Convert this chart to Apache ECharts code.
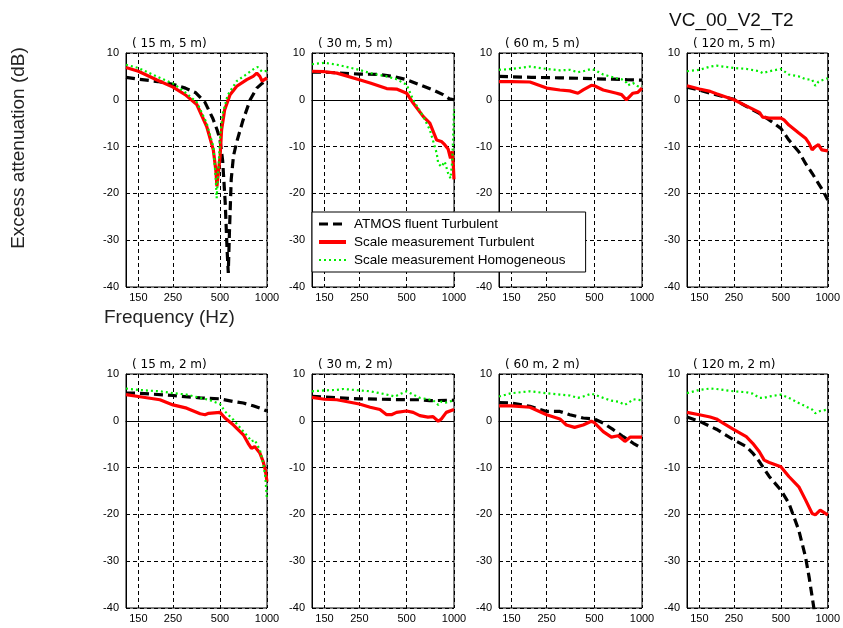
<!DOCTYPE html>
<html>
<head>
<meta charset="utf-8">
<script src="https://cdn.jsdelivr.net/npm/echarts@6/dist/echarts.min.js"></script>
<style>
html,body{margin:0;padding:0;background:#fff;}
#chart{width:843px;height:628px;}
</style>
</head>
<body>
<div id="chart"></div>
<script>
// ---- data ----
const seriesNames = ['ATMOS fluent Turbulent', 'Scale measurement Turbulent', 'Scale measurement Homogeneous'];
const panelTitles = ['( 15 m, 5 m)', '( 30 m, 5 m)', '( 60 m, 5 m)', '( 120 m, 5 m)',
                     '( 15 m, 2 m)', '( 30 m, 2 m)', '( 60 m, 2 m)', '( 120 m, 2 m)'];
const freqTicks = [150, 250, 500, 1000];
const yTicks = [-40, -30, -20, -10, 0, 10];

// panel 1 (15 m, 5 m)
const p1Atmos = [[125,4.8],[150,4.4],[200,3.9],[250,3.3],[300,2.5],[350,1.5],[400,-0.5],[450,-4],[480,-6.5],[500,-8.5],[520,-13],[540,-22],[555,-32],[565,-37],[575,-28],[590,-17],[610,-12],[640,-9],[700,-4.5],[780,0],[860,2.5],[930,3.5],[1000,4.3]];
const p1Turb = [[125,6.9],[150,6.1],[196,4.3],[250,2.7],[299,1.1],[355,-1.0],[411,-5.7],[453,-10.7],[470,-15],[478,-18.5],[490,-15],[501,-12],[512,-6.4],[536,-2.1],[580,1.1],[640,2.9],[742,4.3],[815,5],[860,5.7],[900,5],[930,4],[1000,4.7]];
const p1Homog = [[125,7.5],[150,6.8],[196,5],[250,3.5],[299,1.6],[355,-0.5],[411,-5],[453,-10],[470,-17],[476,-21],[490,-14],[501,-8],[520,-3],[560,1],[640,4],[742,5.5],[815,6.5],[870,7],[930,6],[1000,6.2]];
// panel 2 (30 m, 5 m)
const p2Atmos = [[125,5.9],[150,5.9],[250,5.5],[338,5.4],[410,5.0],[500,4.3],[606,3.2],[736,2.1],[852,1.1],[935,0.2],[1000,0]];
const p2Turb = [[125,6.1],[150,6.0],[180,5.7],[250,4.3],[293,3.6],[373,2.4],[431,2.3],[500,1.4],[550,-0.7],[638,-3.6],[702,-5],[776,-8.6],[831,-8.9],[873,-9.6],[917,-10.5],[950,-12.5],[975,-11],[990,-14],[1000,-17]];
const p2Homog = [[125,7.6],[150,7.9],[180,7.5],[250,6.4],[293,5.7],[373,5.0],[431,4.4],[500,3.2],[550,0],[638,-3.6],[702,-6.4],[776,-11.4],[794,-13.6],[831,-14.3],[873,-13.2],[917,-15.7],[950,-16.8],[975,-13],[990,-7],[1000,-2]];
// panel 3 (60 m, 5 m)
const p3Atmos = [[125,5.0],[200,4.8],[300,4.7],[400,4.6],[500,4.5],[650,4.4],[800,4.3],[1000,4.2]];
const p3Turb = [[125,3.9],[150,3.9],[196,3.8],[250,2.5],[303,2.1],[350,1.9],[394,1.4],[425,2.1],[479,3.1],[500,3.0],[569,2.1],[691,1.4],[743,1.1],[797,0],[815,0.2],[876,1.4],[941,1.6],[1000,2.5]];
const p3Homog = [[125,6.4],[150,6.6],[196,7.1],[250,6.6],[303,6.3],[350,6.4],[394,5.9],[425,6.1],[479,6.6],[500,6.4],[569,5.4],[691,4.6],[743,4.4],[797,3.7],[815,3.1],[876,3.6],[941,2.9],[1000,3.0]];
// panel 4 (120 m, 5 m)
const p4Atmos = [[125,2.7],[150,2.1],[176,1.4],[250,0.1],[300,-1.4],[364,-2.9],[421,-4.3],[500,-6.1],[563,-8.6],[652,-11.1],[720,-13.6],[794,-15.7],[872,-17.9],[938,-19.6],[1000,-21.4]];
const p4Turb = [[125,3.0],[150,2.3],[176,1.8],[193,1.3],[250,0],[300,-1.3],[364,-2.7],[382,-3.7],[421,-3.9],[500,-3.9],[524,-4.3],[563,-5.4],[652,-7.1],[720,-8.2],[759,-9.3],[794,-10.7],[832,-10.0],[872,-9.6],[915,-10.7],[1000,-10.9]];
const p4Homog = [[125,6.1],[150,6.4],[176,7.1],[193,7.3],[250,6.8],[300,6.6],[364,6.1],[382,5.7],[421,6.1],[500,6.6],[563,5.4],[652,5.0],[720,4.4],[794,4.3],[832,3.0],[872,3.9],[1000,4.6]];
// panel 5 (15 m, 2 m)
const p5Atmos = [[125,5.9],[150,5.9],[250,5.4],[373,4.9],[500,4.7],[610,4.1],[706,3.8],[815,3.2],[900,2.7],[1000,2.1]];
const p5Turb = [[125,5.6],[150,5.2],[206,4.5],[250,3.4],[306,2.7],[373,1.5],[401,1.3],[423,1.6],[500,1.8],[538,0.6],[610,-0.9],[706,-3.0],[757,-4.8],[795,-5.9],[834,-5.5],[900,-6.9],[945,-8.7],[975,-10.5],[1000,-13]];
const p5Homog = [[125,6.9],[150,6.6],[206,6.3],[250,5.9],[306,5.6],[373,4.9],[423,4.5],[500,3.6],[538,2.0],[610,0.2],[706,-2.3],[757,-3.4],[795,-4.4],[834,-4.1],[900,-6.2],[945,-9.1],[975,-11.9],[1000,-16.9]];
// panel 6 (30 m, 2 m)
const p6Atmos = [[125,5.2],[250,4.7],[500,4.5],[606,4.5],[702,4.3],[1000,4.4]];
const p6Turb = [[125,5.0],[150,4.6],[180,4.5],[250,3.6],[293,2.9],[338,2.4],[373,1.3],[400,1.3],[431,1.8],[500,2.1],[550,1.8],[606,1.1],[683,0.8],[736,0.9],[794,-0.1],[831,0.4],[893,1.8],[1000,2.4]];
const p6Homog = [[125,6.3],[150,6.5],[180,6.6],[198,6.8],[250,6.5],[293,6.3],[338,5.9],[373,5.6],[421,5.2],[468,5.9],[500,6.3],[550,5.6],[606,4.9],[683,4.6],[736,4.4],[794,3.4],[831,4.1],[893,3.9],[1000,4.4]];
// panel 7 (60 m, 2 m)
const p7Atmos = [[125,3.9],[150,3.8],[196,3.1],[250,2.0],[303,2.0],[350,1.3],[425,0.6],[500,0.4],[569,-0.5],[659,-1.9],[761,-3.4],[881,-4.8],[1000,-5.9]];
const p7Turb = [[125,3.2],[150,3.2],[196,2.9],[250,1.3],[303,0.4],[333,-0.9],[375,-1.4],[425,-0.9],[479,-0.1],[500,-0.4],[569,-2.3],[641,-3.5],[707,-3.2],[780,-4.4],[840,-3.5],[1000,-3.5]];
const p7Homog = [[125,5.2],[150,5.9],[196,6.3],[250,5.9],[303,5.6],[350,5.4],[394,4.9],[425,5.2],[479,5.8],[500,5.6],[569,4.9],[641,4.3],[707,4.1],[780,3.4],[840,4.1],[881,4.6],[1000,4.4]];
// panel 8 (120 m, 2 m)
const p8Atmos = [[125,0.8],[150,-0.1],[176,-1.2],[193,-1.8],[250,-4.1],[300,-5.5],[330,-6.9],[364,-8.7],[421,-11.9],[500,-14.8],[563,-17.6],[652,-23.4],[720,-29.1],[759,-33.4],[794,-37.6],[815,-40.1],[840,-43]];
const p8Turb = [[125,1.8],[150,1.3],[176,0.8],[193,0.4],[213,-0.5],[250,-1.9],[300,-3.4],[330,-4.8],[364,-6.6],[391,-8.4],[421,-8.9],[500,-9.8],[563,-11.9],[652,-14.1],[720,-16.9],[794,-19.8],[832,-20.1],[894,-19.1],[1000,-20.1]];
const p8Homog = [[125,5.9],[150,6.6],[176,6.9],[193,6.8],[250,6.3],[300,6.1],[330,5.8],[364,4.9],[391,4.9],[421,5.2],[500,5.6],[563,4.9],[652,3.8],[720,3.1],[794,2.4],[832,1.6],[894,2.1],[1000,2.4]];

const panels = [
  [p1Atmos, p1Turb, p1Homog], [p2Atmos, p2Turb, p2Homog], [p3Atmos, p3Turb, p3Homog], [p4Atmos, p4Turb, p4Homog],
  [p5Atmos, p5Turb, p5Homog], [p6Atmos, p6Turb, p6Homog], [p7Atmos, p7Turb, p7Homog], [p8Atmos, p8Turb, p8Homog]
];

// ---- layout ----
const gridLefts = [126, 312, 499, 687];
const gridWidths = [141, 142, 143, 142];
const gridTops = [53, 374];
const gridHeight = 234;
const FONT = 'Arial, "Liberation Sans", sans-serif';
const TITLE_FONT = '"DejaVu Sans", Arial, sans-serif';

const lineStyles = [
  { color: '#000000', width: 3.2, type: [9, 5] },
  { color: '#ff0000', width: 3.2, type: 'solid' },
  { color: '#00ee00', width: 2.2, type: [2, 3] }
];
const legendWidths = [3.2, 4, 2.2];

const grids = [], xAxes = [], yAxes = [], series = [], titles = [];
for (let i = 0; i < 8; i++) {
  const col = i % 4, row = Math.floor(i / 4);
  grids.push({
    left: gridLefts[col], top: gridTops[row], width: gridWidths[col], height: gridHeight,
    show: true, borderColor: '#000', borderWidth: 1, backgroundColor: 'transparent'
  });
  xAxes.push({
    type: 'log', logBase: 10, min: 125, max: 1000, gridIndex: i,
    axisLine: { show: true, lineStyle: { color: '#000', width: 1 } },
    axisTick: { show: true, inside: true, length: 3, lineStyle: { color: '#000' }, customValues: freqTicks },
    axisLabel: { color: '#000', fontSize: 11, fontFamily: FONT, margin: 5, customValues: freqTicks, formatter: v => String(Math.round(v)), showMinLabel: true, showMaxLabel: true },
    splitLine: { show: true, lineStyle: { color: '#000', width: 1, type: [4, 3] } },
    minorTick: { show: false }, minorSplitLine: { show: false }
  });
  yAxes.push({
    type: 'value', min: -40, max: 10, interval: 10, gridIndex: i,
    axisLine: { show: true, lineStyle: { color: '#000', width: 1 } },
    axisTick: { show: true, inside: true, length: 3, lineStyle: { color: '#000' } },
    axisLabel: { color: '#000', fontSize: 11, fontFamily: FONT, margin: 7 },
    splitLine: { show: true, lineStyle: { color: '#000', width: 1, type: [4, 3] } }
  });
  titles.push({
    text: panelTitles[i], left: gridLefts[col] + 6, top: gridTops[row] - 15, padding: 0,
    textStyle: { fontSize: 12, fontWeight: 'normal', color: '#000', fontFamily: TITLE_FONT }
  });
  for (let s = 0; s < 3; s++) {
    series.push({
      name: seriesNames[s], type: 'line', xAxisIndex: i, yAxisIndex: i,
      data: panels[i][s], symbol: 'none', showSymbol: false, clip: true,
      lineStyle: lineStyles[s], itemStyle: { color: lineStyles[s].color },
      animation: false, z: 2 + s
    });
  }
}

titles.push({
  text: 'VC_00_V2_T2', left: 669, top: 11, padding: 0,
  textStyle: { fontSize: 19, fontWeight: 'normal', color: '#111', fontFamily: FONT }
});

const option = {
  backgroundColor: '#fff',
  animation: false,
  title: titles,
  grid: grids,
  xAxis: xAxes,
  yAxis: yAxes,
  series: series,
  legend: {
    data: seriesNames.map((n, k) => ({ name: n, lineStyle: { width: legendWidths[k], color: lineStyles[k].color, type: lineStyles[k].type } })),
    orient: 'vertical', left: 312, top: 212,
    padding: [5, 20, 5, 5], itemWidth: 27, itemHeight: 14, itemGap: 4,
    backgroundColor: '#fff', borderColor: '#000', borderWidth: 1, borderRadius: 0,
    itemStyle: { color: 'transparent', borderWidth: 0, opacity: 0 },
    textStyle: { fontSize: 13.5, color: '#000', fontFamily: FONT, padding: [0, 0, 0, 3] },
    z: 20, selectedMode: false
  },
  graphic: [
    { type: 'text', x: 19, y: 148, rotation: Math.PI / 2, z: 10,
      style: { text: 'Excess attenuation (dB)', fill: '#222', font: '19px ' + FONT, textAlign: 'center', textVerticalAlign: 'middle' } },
    { type: 'text', x: 104, y: 318, z: 10,
      style: { text: 'Frequency (Hz)', fill: '#222', font: '19px ' + FONT, textAlign: 'left', textVerticalAlign: 'middle' } }
  ]
};

const chart = echarts.init(document.getElementById('chart'), null, { renderer: 'canvas' });
chart.setOption(option);
</script>
</body>
</html>
